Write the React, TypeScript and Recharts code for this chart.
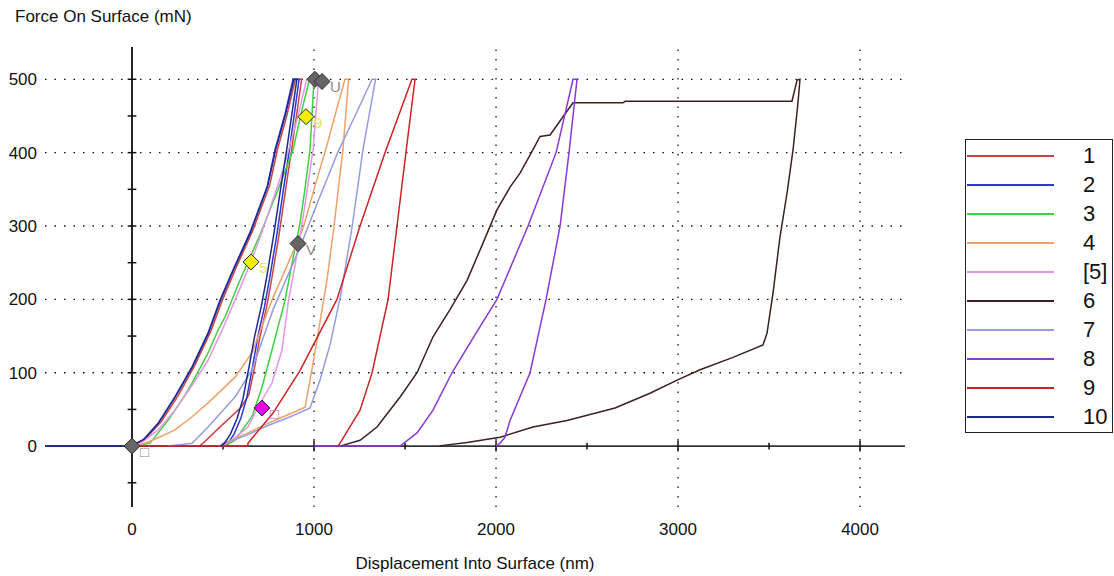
import React from 'react';
import { ComposedChart, Line, Scatter, XAxis, YAxis, ReferenceLine, Legend } from 'recharts';

const FONT = '"Liberation Sans", Arial, sans-serif';

const seriesNames = ['1', '2', '3', '4', '[5]', '6', '7', '8', '9', '10'];
const seriesColors = ['#c84444', '#2a36d8', '#3fcf3f', '#f0a06a', '#e595e5', '#3c2020', '#959ce2', '#8a38d6', '#cc2424', '#1c2a8c'];

// [displacement nm, force mN] in test order
const curve1 = [[0, 0], [15, 2], [75, 10], [160, 33], [252, 68], [345, 110], [432, 156], [498, 200], [570, 242], [662, 293], [756, 355], [800, 405], [850, 450], [898, 500], [932, 500], [877, 404], [844, 350], [809, 290], [769, 230], [740, 190], [704, 150], [674, 108], [642, 70], [600, 53], [500, 30], [390, 4], [370, 0]];
const curve2 = [[0, 0], [5, 1], [60, 8], [143, 31], [236, 67], [330, 108], [418, 154], [484, 199], [555, 240], [648, 291], [742, 353], [786, 404], [840, 452], [885, 500], [918, 500], [865, 404], [832, 350], [797, 290], [757, 230], [728, 190], [692, 150], [662, 108], [630, 65], [598, 38], [560, 16], [527, 4], [505, 0]];
const curve3 = [[0, 0], [40, 1], [99, 4], [198, 35], [275, 63], [330, 86], [418, 127], [473, 158], [511, 176], [593, 226], [703, 288], [802, 349], [885, 404], [935, 460], [975, 500], [1000, 500], [978, 404], [950, 350], [923, 304], [880, 250], [841, 199], [769, 131], [714, 80], [659, 40], [566, 8], [511, 0]];
const curve4 = [[0, 0], [30, 1], [71, 4], [150, 12], [236, 22], [330, 40], [418, 59], [495, 77], [566, 94], [659, 127], [692, 149], [769, 199], [852, 246], [940, 297], [1000, 350], [1071, 410], [1120, 455], [1170, 500], [1190, 500], [1159, 404], [1110, 300], [1071, 226], [1044, 186], [995, 113], [951, 53], [850, 42], [747, 31], [620, 16], [511, 5], [480, 0]];
const curve5 = [[0, 0], [44, 3], [143, 22], [236, 49], [330, 83], [418, 117], [495, 158], [566, 199], [654, 251], [742, 312], [830, 377], [907, 445], [960, 500], [1025, 500], [995, 404], [940, 312], [885, 231], [860, 199], [824, 131], [769, 86], [692, 53], [637, 26], [549, 8], [494, 0]];
const curve6 = [[1143, 0], [1253, 8], [1346, 26], [1473, 67], [1566, 100], [1654, 149], [1747, 186], [1841, 226], [1929, 277], [2005, 322], [2077, 353], [2132, 372], [2203, 404], [2242, 422], [2297, 424], [2368, 449], [2423, 468], [2698, 468], [2709, 470], [3626, 470], [3654, 499], [3670, 500], [3659, 468], [3632, 404], [3599, 345], [3560, 285], [3522, 209], [3489, 154], [3467, 138], [3302, 121], [3121, 104], [2995, 90], [2846, 72], [2654, 52], [2390, 35], [2203, 26], [2022, 12], [1841, 5], [1709, 1], [1690, 0]];
const curve7 = [[200, 0], [330, 4], [418, 26], [566, 67], [659, 104], [775, 186], [923, 271], [1016, 330], [1130, 400], [1225, 450], [1319, 500], [1338, 500], [1269, 404], [1210, 300], [1150, 210], [1090, 140], [1033, 90], [978, 52], [870, 40], [747, 28], [620, 14], [511, 4], [480, 0]];
const curve8 = [[1000, 0], [1473, 0], [1566, 18], [1654, 49], [1758, 100], [1880, 150], [2005, 200], [2176, 300], [2330, 400], [2423, 500], [2445, 500], [2401, 400], [2352, 300], [2275, 200], [2187, 100], [2077, 35], [2049, 12], [2022, 4], [2000, 0]];
const curve9 = [[0, 0], [637, 0], [637, 4], [775, 45], [923, 103], [1126, 200], [1253, 300], [1390, 400], [1538, 500], [1555, 500], [1505, 400], [1456, 300], [1407, 200], [1319, 100], [1253, 49], [1143, 4], [1130, 0]];
const curve10 = [[-478, 0], [0, 0], [8, 2], [65, 9], [148, 32], [240, 68], [334, 109], [421, 155], [488, 200], [559, 241], [652, 292], [745, 354], [790, 405], [843, 452], [890, 500], [906, 500], [850, 404], [816, 350], [780, 290], [740, 230], [710, 190], [674, 150], [643, 108], [610, 65], [578, 38], [540, 16], [508, 4], [488, 0]];

const curves = [curve1, curve2, curve3, curve4, curve5, curve6, curve7, curve8, curve9, curve10];

const xTicks = [0, 1000, 2000, 3000, 4000];
const yTicks = [0, 100, 200, 300, 400, 500];
const xGrid = [1000, 2000, 3000, 4000];
const yGrid = [100, 200, 300, 400, 500];
const xMajorMarks = [1000, 2000, 3000, 4000];
const xMinorMarks = [500, 1500, 2500, 3500];
const yMarks = [-50, 50, 100, 150, 200, 250, 300, 350, 400, 450, 500];

const grayMarkers = [
  { x: 0, y: 0, label: '□' },
  { x: 1005, y: 500, label: '' },
  { x: 1044, y: 497, label: 'U' },
  { x: 912, y: 276, label: 'V' },
];
const yellowMarkers = [
  { x: 654, y: 251, label: '5' },
  { x: 956, y: 449, label: '9' },
];
const magentaMarkers = [{ x: 714, y: 52, label: '□' }];

const toPoints = (c: number[][]) => c.map(([x, y]) => ({ x, y }));

const diamond = (fill: string, labelFill: string) => (props: any) => {
  const { cx, cy, payload } = props;
  const r = 8;
  return (
    <g>
      <polygon
        points={`${cx},${cy - r} ${cx + r},${cy} ${cx},${cy + r} ${cx - r},${cy}`}
        fill={fill}
        stroke="#2a2a2a"
        strokeWidth={1}
      />
      {payload && payload.label ? (
        <text x={cx + 8} y={cy + 11} fill={labelFill} fontSize={15} fontFamily={FONT}>
          {payload.label}
        </text>
      ) : null}
    </g>
  );
};

// legend rows follow the series order, colours taken from the same table as the lines
const renderLegend = () => (
  <div
    style={{
      position: 'absolute',
      left: 0,
      top: 0,
      width: 148,
      height: 294,
      border: '1px solid #222',
      boxSizing: 'border-box',
      background: '#fff',
      fontFamily: FONT,
    }}
  >
    {seriesNames.map((name, i) => (
      <div key={name} style={{ position: 'absolute', left: 0, top: 1 + i * 29, height: 29, width: '100%' }}>
        <div style={{ position: 'absolute', left: 1, top: 14, width: 87, height: 2, background: seriesColors[i] }} />
        <span style={{ position: 'absolute', left: 117, top: 0, fontSize: 22, lineHeight: '29px', color: '#111' }}>
          {name}
        </span>
      </div>
    ))}
  </div>
);

const YTitle = (props: any) => {
  const vb = props.viewBox || { x: 0, y: 47 };
  return (
    <text x={vb.x + 15} y={vb.y - 25} fill="#111" fontSize={17} fontFamily={FONT}>
      Force On Surface (mN)
    </text>
  );
};

export default function App() {
  const tickStyle = { fill: '#111', fontSize: 17, fontFamily: FONT };
  return (
    <div style={{ position: 'absolute', left: 0, top: 0, width: 1114, height: 576, background: '#fff' }}>
      <ComposedChart width={1114} height={576} margin={{ top: 47, right: 209, bottom: 0, left: 0 }}>
        <XAxis
          type="number"
          dataKey="x"
          domain={[-478, 4247]}
          allowDataOverflow
          ticks={xTicks}
          interval={0}
          axisLine={false}
          tickLine={false}
          tickSize={6}
          tickMargin={10}
          height={69}
          tick={tickStyle}
          label={{ value: 'Displacement Into Surface (nm)', position: 'insideBottom', offset: 7, fill: '#111', fontSize: 17, fontFamily: FONT }}
        />
        <YAxis
          type="number"
          dataKey="y"
          domain={[-83, 544]}
          allowDataOverflow
          ticks={yTicks}
          interval={0}
          width={45}
          axisLine={false}
          tickLine={false}
          tickSize={6}
          tickMargin={2}
          tick={tickStyle}
          label={{ content: YTitle }}
        />
        {yGrid.map((v) => (
          <ReferenceLine key={`gy${v}`} y={v} stroke="#111" strokeWidth={1.3} strokeDasharray="1.5 8" />
        ))}
        {xGrid.map((v) => (
          <ReferenceLine key={`gx${v}`} x={v} stroke="#111" strokeWidth={1.3} strokeDasharray="1.5 8" />
        ))}
        <ReferenceLine x={0} stroke="#000" strokeWidth={1.7} />
        <ReferenceLine y={0} stroke="#333" strokeWidth={1.7} />
        {xMajorMarks.map((v) => (
          <ReferenceLine key={`xm${v}`} segment={[{ x: v, y: -7.5 }, { x: v, y: 7.5 }]} stroke="#111" strokeWidth={1.5} />
        ))}
        {xMinorMarks.map((v) => (
          <ReferenceLine key={`xn${v}`} segment={[{ x: v, y: -4.5 }, { x: v, y: 4.5 }]} stroke="#111" strokeWidth={1.5} />
        ))}
        {yMarks.map((v) => (
          <ReferenceLine key={`ym${v}`} segment={[{ x: -24, y: v }, { x: 24, y: v }]} stroke="#111" strokeWidth={1.5} />
        ))}
        {curves.map((c, i) => (
          <Line
            key={seriesNames[i]}
            name={seriesNames[i]}
            data={toPoints(c)}
            dataKey="y"
            type="linear"
            stroke={seriesColors[i]}
            strokeWidth={1.5}
            dot={false}
            activeDot={false}
            isAnimationActive={false}
          />
        ))}
        <Scatter data={grayMarkers} legendType="none" shape={diamond('#666666', '#8a8a8a')} isAnimationActive={false} />
        <Scatter data={yellowMarkers} legendType="none" shape={diamond('#f2f000', '#ece060')} isAnimationActive={false} />
        <Scatter data={magentaMarkers} legendType="none" shape={diamond('#f000f0', '#e050e0')} isAnimationActive={false} />
        <Legend
          verticalAlign="top"
          align="left"
          content={renderLegend}
          wrapperStyle={{ position: 'absolute', left: 965, top: 139, width: 0, height: 0 }}
        />
      </ComposedChart>
    </div>
  );
}
